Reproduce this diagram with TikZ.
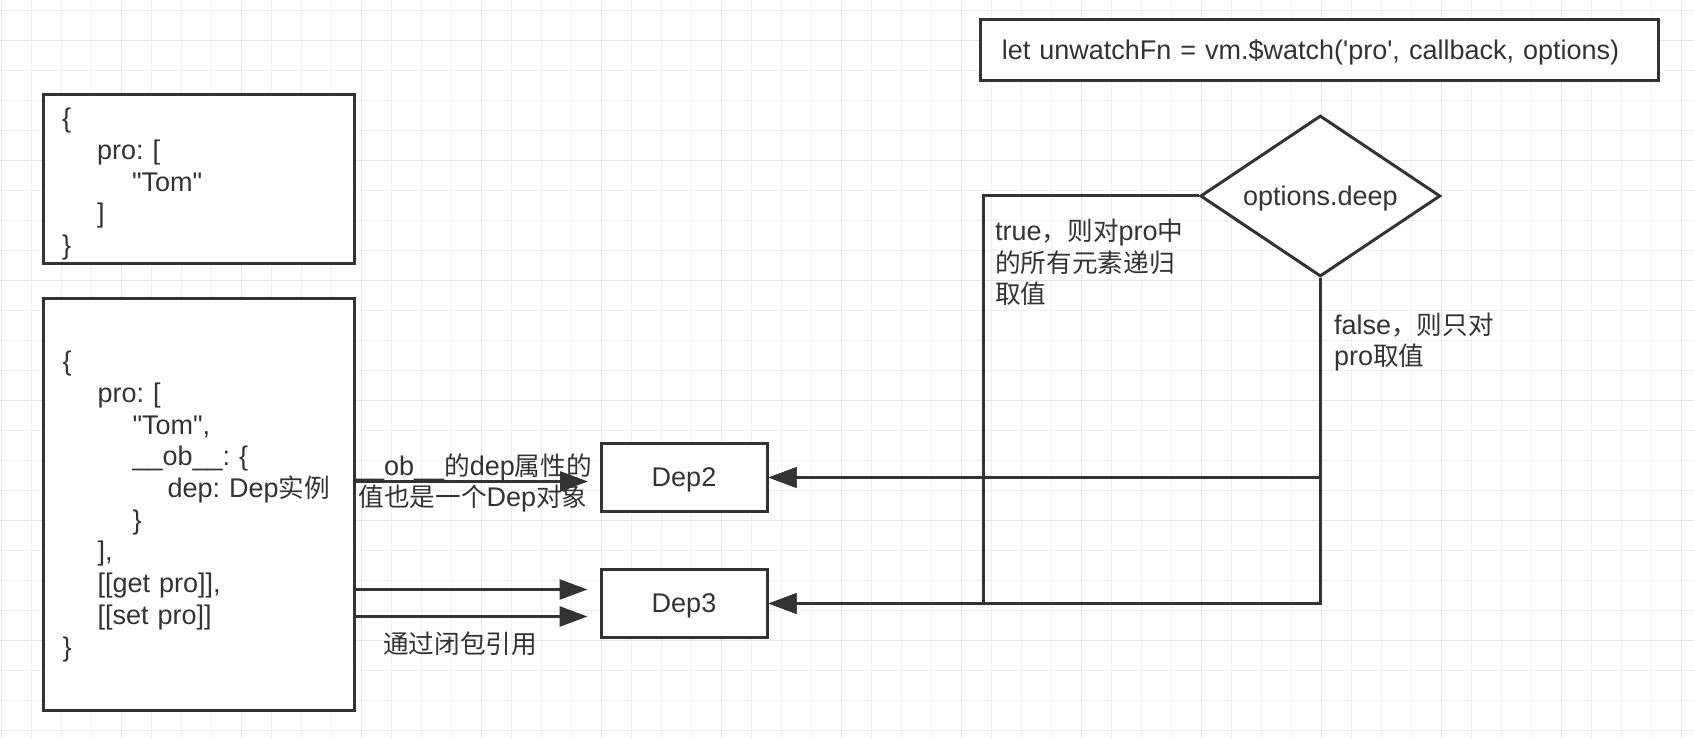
\documentclass[tikz,border=0pt]{standalone}
\usepackage{fontspec}
\setmainfont{Liberation Sans}
\newfontfamily\cjk[Scale=0.95]{Noto Sans CJK SC}
\newcommand{\zh}[1]{{\cjk #1}}
\usetikzlibrary{shapes.geometric,arrows.meta,positioning}
\definecolor{ink}{HTML}{333333}
\definecolor{gridminor}{HTML}{F0F0F0}
\definecolor{gridmajor}{HTML}{E4E4E4}
\frenchspacing
\begin{document}
\begin{tikzpicture}[x=1pt, y=-1pt,
	main/.style = {draw=ink, fill=white, line width=3pt, rectangle, text=ink, font=\fontsize{27}{31.7}\selectfont},
	code/.style = {main, align=left, inner xsep=19pt, text width=273pt, minimum height=#1},
	dep/.style = {main, text depth=0pt, minimum width=166pt, minimum height=68pt},
	cond/.style = {main, diamond, text depth=0pt, aspect=1.49, minimum width=240pt, minimum height=161pt, inner sep=0pt},
	lbl/.style = {text=ink, font=\fontsize{27}{31.7}\selectfont, inner sep=0pt},
	arr/.style = {draw=ink, line width=3pt, -{Triangle[length=28pt,width=20pt]}}]
			\useasboundingbox (0,0) rectangle (1694,738);
			\fill[white] (0,0) rectangle (1694,738);
			\foreach \gx in {0,...,56} \draw[gridminor, line width=1.5pt] ({1.3+30*\gx},0) -- ({1.3+30*\gx},738);
			\foreach \gy in {0,...,24} \draw[gridminor, line width=1.5pt] (0,{10.7+30*\gy}) -- (1694,{10.7+30*\gy});
			\foreach \gx in {0,...,14} \draw[gridmajor, line width=1.5pt] ({1.3+120*\gx},0) -- ({1.3+120*\gx},738);
			\foreach \gy in {0,...,5} \draw[gridmajor, line width=1.5pt] (0,{40.7+120*\gy}) -- (1694,{40.7+120*\gy});
			\node[code=166.6pt] (obj1) at (198.5,179) {\rule{0pt}{30pt}\{\\
				\hspace*{35pt}pro: [\\
				\hspace*{70pt}\textquotedbl Tom\textquotedbl\\
				\hspace*{35pt}]\\
				\}};
			\node[code=411.7pt] (obj2) at (199,504.2) {\rule{0pt}{24pt}\{\\
				\hspace*{35pt}pro: [\\
				\hspace*{70pt}\textquotedbl Tom\textquotedbl,\\
				\hspace*{70pt}\_\_ob\_\_: \{\\
				\hspace*{105pt}dep: Dep\zh{实例}\\
				\hspace*{70pt}\}\\
				\hspace*{35pt}],\\
				\hspace*{35pt}[[get pro]],\\
				\hspace*{35pt}[[set pro]]\\
				\}};
			\node[dep] (dep2) at (684,477.5) {Dep2};
			\node[dep, below=55pt of dep2] (dep3) {Dep3};
			\node[main, text depth=0pt, align=left, inner xsep=21pt, text width=635.6pt, minimum height=60.7pt] (watch) at (1319.6,49.7) {let unwatchFn = vm.\$watch(\textquotesingle pro\textquotesingle, callback, options)};
			\node[cond] (deep) at (1320.3,196) {options.deep};
			\coordinate (truex) at (983.3,196);
			\coordinate (ob) at ([yshift=-4pt]dep2.west);
			\coordinate (getp) at ([yshift=14pt]dep3.west);
			\coordinate (setp) at ([yshift=-13pt]dep3.west);
			\draw[arr] (deep.west) -| (truex |- dep2.east) -- (dep2.east);
			\draw[arr] (deep.west) -| (truex |- dep3.east) -- (dep3.east);
			\draw[arr] (deep.south) |- (dep2.east);
			\draw[arr] (deep.south) |- (dep3.east);
			\draw[arr, shorten >=11.5pt] (obj2.east |- ob) -- (ob);
			\draw[arr, shorten >=12pt] (obj2.east |- getp) -- (getp);
			\draw[arr, shorten >=12pt] (obj2.east |- setp) -- (setp);
			\node[lbl, align=center] (oblbl) at (473,483) {\_\_ob\_\_\zh{的}dep\zh{属性的}\\\zh{值也是一个}Dep\zh{对象}};
			\node[lbl] (closure) at (460,643.3) {\zh{通过闭包引用}};
			\node[lbl, align=left, anchor=west] (truelbl) at (995,262.5) {true\zh{，则对}pro\zh{中}\\\zh{的所有元素递归}\\\zh{取值}};
			\node[lbl, align=left, anchor=west] (falselbl) at (1334,342) {false\zh{，则只对}\\pro\zh{取值}};
		\end{tikzpicture}
\end{document}
